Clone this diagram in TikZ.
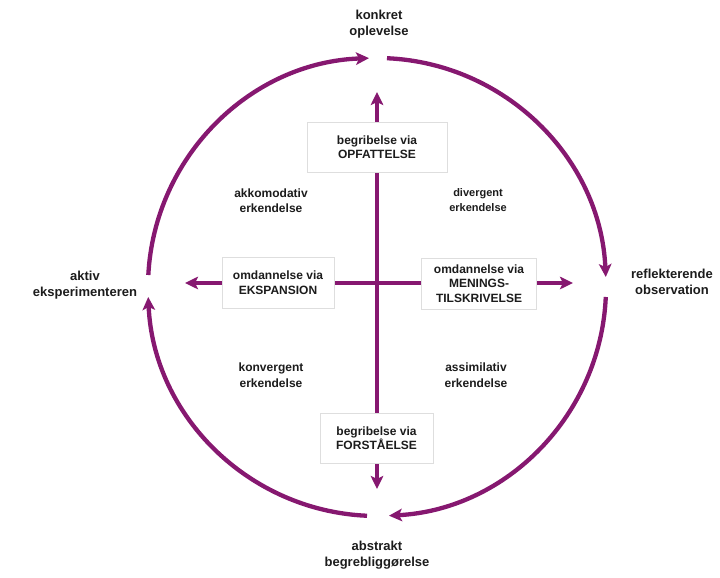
\documentclass[tikz,border=0pt]{standalone}
\usepackage{fontspec}
\setmainfont{Liberation Sans}
\usetikzlibrary{arrows.meta}
\definecolor{cyc}{RGB}{134,24,112}
\definecolor{txt}{RGB}{28,28,28}
\tikzset{
  flow/.style={draw=cyc, line width=4.3pt, -{Stealth[length=13pt,width=12.5pt,inset=3pt]}},
  box/.style={draw=black!13, line width=0.6pt, fill=white, align=center, text=txt,
    font=\bfseries\fontsize{12}{14.5}\selectfont, inner sep=0pt},
  pole/.style={align=center, text=txt, font=\bfseries\fontsize{13}{16}\selectfont},
  lbl/.style={align=center, text=txt, font=\bfseries\fontsize{12}{15.5}\selectfont},
  slbl/.style={align=center, text=txt, font=\bfseries\fontsize{11}{15}\selectfont}
}
\begin{document}
\begin{tikzpicture}[x=1pt,y=1pt]
\useasboundingbox[fill=white] (0,0) rectangle (720,578);
% circle centre and cross centre
\coordinate (o) at (377,291);
\coordinate (c) at (377,295);
\coordinate (ttip) at (377,486);
\coordinate (btip) at (377,89);
\coordinate (ltip) at (185,295);
\coordinate (rtip) at (573,295);
% cycle arcs
\draw[flow] (o) ++(87.5:229) arc[start angle=87.5, end angle=2.5, radius=229];
\draw[flow] (o) ++(-2.5:229) arc[start angle=-2.5, end angle=-87, radius=229];
\draw[flow] (o) ++(-92.5:229) arc[start angle=-92.5, end angle=-177.5, radius=229];
\draw[flow] (o) ++(177:229) arc[start angle=177, end angle=92, radius=229];
% cross
\draw[flow] (c) -- (ttip);
\draw[flow] (c) -- (btip);
\draw[flow] (c) -- (ltip);
\draw[flow] (c) -- (rtip);
% boxes
\node[box, minimum width=140pt, minimum height=50pt] (opf) at (377,431) {begribelse via\\OPFATTELSE};
\node[box, minimum width=112pt, minimum height=51pt] (eks) at (278,295.5) {omdannelse via\\EKSPANSION};
\node[box, minimum width=115pt, minimum height=51pt] (men) at (479,294.5) {omdannelse via\\MENINGS-\\TILSKRIVELSE};
\node[box, minimum width=113pt, minimum height=50pt] (for) at (376.5,140) {begribelse via\\FORSTÅELSE};
% pole labels
\node[pole] (ko) at (379,554) {konkret\\oplevelse};
\node[pole] (ab) at (377,23) {abstrakt\\begrebliggørelse};
\node[pole] (ak) at (85,293) {aktiv\\eksperimenteren};
\node[pole] (re) at (672,296) {reflekterende\\observation};
% quadrant labels
\node[lbl] (akk) at (271,377.5) {akkomodativ\\erkendelse};
\node[slbl] (div) at (478,378) {divergent\\erkendelse};
\node[lbl] (kon) at (271,203) {konvergent\\erkendelse};
\node[lbl] (ass) at (476,203) {assimilativ\\erkendelse};
\end{tikzpicture}
\end{document}
